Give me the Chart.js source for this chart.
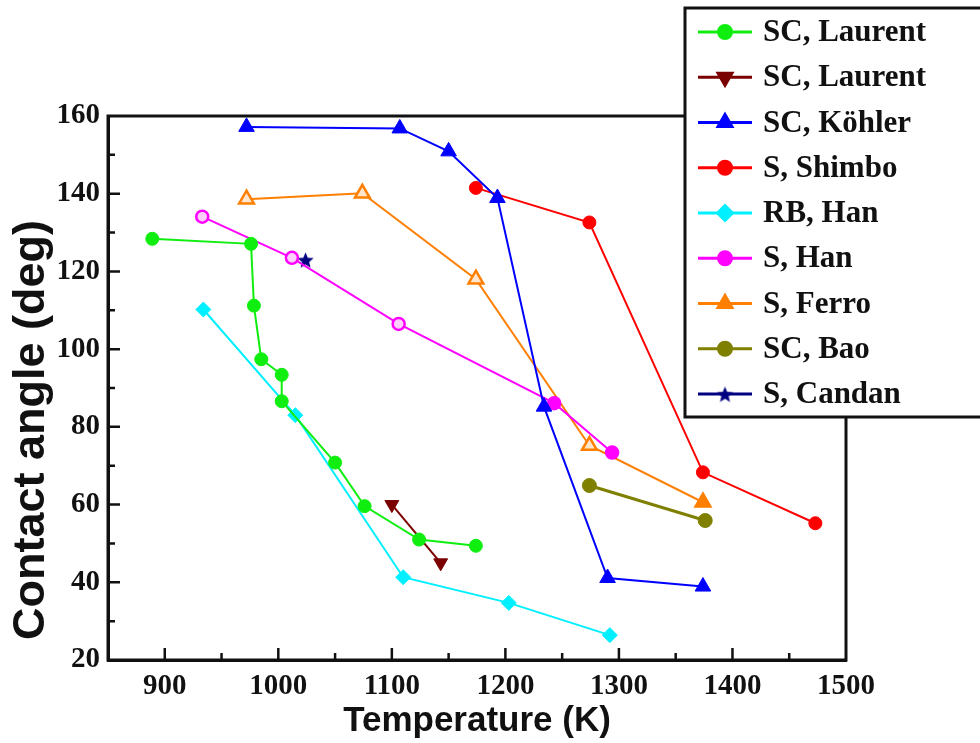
<!DOCTYPE html>
<html>
<head>
<meta charset="utf-8">
<script src="https://cdn.jsdelivr.net/npm/chart.js@4.4.1/dist/chart.umd.min.js"></script>
<style>
html,body{margin:0;padding:0;background:#fff;}
#wrap{position:relative;width:980px;height:743px;}
</style>
</head>
<body>
<div id="wrap"><canvas id="c"></canvas></div>
<script>
// ---- data ----
const xTickValues = [900, 1000, 1100, 1200, 1300, 1400, 1500];
const yTickValues = [20, 40, 60, 80, 100, 120, 140, 160];

const seriesNames = ["SC, Laurent", "SC, Laurent", "SC, Köhler", "S, Shimbo", "RB, Han", "S, Han", "S, Ferro", "SC, Bao", "S, Candan"];

const laurentA_T = [889, 976, 978.5, 985, 1003, 1003, 1050, 1076, 1124, 1174];
const laurentA_A = [128.4, 127.1, 111.2, 97.4, 93.4, 86.6, 70.8, 59.6, 51.0, 49.4];
const laurentB_T = [1100, 1143];
const laurentB_A = [60.0, 45.0];
const kohler_T = [972, 1107, 1150, 1193, 1234, 1290, 1374];
const kohler_A = [157.2, 156.8, 150.9, 138.9, 85.2, 41.1, 38.9];
const shimbo_T = [1174, 1274, 1374, 1473];
const shimbo_A = [141.5, 132.6, 68.3, 55.2];
const rbHan_T = [934, 1015, 1110, 1203, 1292];
const rbHan_A = [110.2, 83.0, 41.3, 34.7, 26.4];
const sHan_T = [933, 1012, 1106, 1243, 1294];
const sHan_A = [134.1, 123.5, 106.5, 86.1, 73.4];
const ferro_T = [972, 1074, 1174, 1274, 1374];
const ferro_A = [138.6, 140.1, 118.0, 75.2, 60.6];
const bao_T = [1274, 1376];
const bao_A = [64.9, 55.9];
const candan_T = [1024];
const candan_A = [123.0];

// ---- helpers ----
function pts(T, A){ return T.map((t,i)=>({x:t, y:A[i]})); }

function makeStar(color, size){
  const cv = document.createElement('canvas');
  cv.width = size; cv.height = size;
  const c = cv.getContext('2d');
  const cx = size/2, cy = size/2 + 1, R = size/2, r = R*0.45;
  c.beginPath();
  for (let i=0;i<10;i++){
    const rad = i%2===0 ? R : r;
    const a = -Math.PI/2 + i*Math.PI/5;
    const px = cx + rad*Math.cos(a), py = cy + rad*Math.sin(a);
    if (i===0) c.moveTo(px,py); else c.lineTo(px,py);
  }
  c.closePath();
  c.fillStyle = color; c.fill();
  return cv;
}
const starImg = makeStar('#000080', 17);

const GREEN='#10ee10', BROWN='#7a0000', BLUE='#0000ff', RED='#ff0000', CYAN='#00f0ff',
      MAGENTA='#ff00ff', ORANGE='#ff7f00', OLIVE='#7f7f00', NAVY='#000080';

function ds(label, data, color, style, radius, opts){
  return Object.assign({
    label, data, showLine:true, borderColor:color, backgroundColor:color,
    pointBackgroundColor:color, pointBorderColor:color, pointStyle:style,
    pointRadius:radius, pointHoverRadius:radius, pointBorderWidth:1, borderWidth:2
  }, opts||{});
}

const datasets = [
  ds(seriesNames[0], pts(laurentA_T, laurentA_A), GREEN, 'circle', 6.5),
  ds(seriesNames[1], pts(laurentB_T, laurentB_A), BROWN, 'triangle', 8, {pointRotation:180}),
  ds(seriesNames[2], pts(kohler_T, kohler_A), BLUE, 'triangle', 9),
  ds(seriesNames[3], pts(shimbo_T, shimbo_A), RED, 'circle', 6.5),
  ds(seriesNames[4], pts(rbHan_T, rbHan_A), CYAN, 'rectRot', 7.5),
  ds(seriesNames[5], pts(sHan_T, sHan_A), MAGENTA, 'circle', 6, {
    pointBackgroundColor: c => c.dataIndex < 3 ? '#ffd0ff' : MAGENTA, pointBorderWidth:2.5}),
  ds(seriesNames[6], pts(ferro_T, ferro_A), ORANGE, 'triangle', 8.5, {
    pointBackgroundColor: c => c.dataIndex < 4 ? '#ffe6cc' : ORANGE, pointBorderWidth:2.5}),
  ds(seriesNames[7], pts(bao_T, bao_A), OLIVE, 'circle', 7, {borderWidth:3}),
  ds(seriesNames[8], pts(candan_T, candan_A), NAVY, starImg, 8)
];

const legendStyles = [
  {c:GREEN, s:'circle', r:6.5}, {c:BROWN, s:'triangle', r:8, rot:180}, {c:BLUE, s:'triangle', r:8},
  {c:RED, s:'circle', r:6.5}, {c:CYAN, s:'rectRot', r:7.5}, {c:MAGENTA, s:'circle', r:6.5},
  {c:ORANGE, s:'triangle', r:8}, {c:OLIVE, s:'circle', r:6.5}, {c:NAVY, s:starImg, r:7}
];

const deco = {
  id:'deco',
  afterDraw(chart){
    const ctx = chart.ctx, a = chart.chartArea;
    const xs = chart.scales.x, ys = chart.scales.y;
    ctx.save();
    // frame
    ctx.strokeStyle = '#111'; ctx.lineWidth = 3;
    ctx.strokeRect(a.left, a.top, a.right - a.left, a.bottom - a.top);
    // inward ticks
    ctx.lineWidth = 2.5;
    ctx.beginPath();
    for (let v = 900; v < 1500; v += 50){
      const px = xs.getPixelForValue(v);
      const len = (v % 100 === 0) ? 12 : 7;
      ctx.moveTo(px, a.bottom); ctx.lineTo(px, a.bottom - len);
    }
    for (let v = 30; v < 160; v += 10){
      const py = ys.getPixelForValue(v);
      const len = (v % 20 === 0) ? 12 : 7;
      ctx.moveTo(a.left, py); ctx.lineTo(a.left + len, py);
    }
    ctx.stroke();
    // y title
    ctx.save();
    ctx.translate(32, 430);
    ctx.rotate(-Math.PI/2);
    ctx.font = "bold 45px 'Liberation Sans', Arial, sans-serif";
    ctx.fillStyle = '#111';
    ctx.textAlign = 'center'; ctx.textBaseline = 'middle';
    ctx.fillText('Contact angle (deg)', 0, 0);
    ctx.restore();
    // legend
    const lx = 685, ly = 8, lw = 310, lh = 409;
    ctx.fillStyle = '#fff';
    ctx.fillRect(lx, ly, lw, lh);
    ctx.strokeStyle = '#111'; ctx.lineWidth = 3;
    ctx.strokeRect(lx, ly, lw, lh);
    ctx.font = "bold 31px 'Liberation Serif', 'Times New Roman', serif";
    ctx.textBaseline = 'middle'; ctx.textAlign = 'left';
    for (let i = 0; i < seriesNames.length; i++){
      const y = 32 + i * 45.25;
      const st = legendStyles[i];
      ctx.strokeStyle = st.c; ctx.lineWidth = 3;
      ctx.beginPath(); ctx.moveTo(698, y); ctx.lineTo(752, y); ctx.stroke();
      ctx.fillStyle = st.c;
      Chart.helpers.drawPoint(ctx, {pointStyle: st.s, radius: st.r, rotation: st.rot || 0, borderWidth: 1}, 725, y);
      ctx.fillStyle = '#111';
      ctx.fillText(seriesNames[i], 763, y + 1);
    }
    ctx.restore();
  }
};

new Chart(document.getElementById('c'), {
  type:'scatter',
  data:{datasets},
  plugins:[deco],
  options:{
    responsive:true, maintainAspectRatio:false, animation:false,
    layout:{padding:{top:116, right:134, left:0, bottom:0}},
    plugins:{legend:{display:false}, tooltip:{enabled:false}},
    scales:{
      x:{
        type:'linear', min:850, max:1500,
        afterBuildTicks: s => { s.ticks = xTickValues.map(v => ({value:v})); },
        afterFit: s => { s.height = 83; },
        grid:{display:false, drawTicks:false},
        border:{display:true, color:'#111', width:3},
        ticks:{color:'#111', padding:9, maxRotation:0, autoSkip:false,
          font:{family:"'Liberation Serif', 'Times New Roman', serif", size:29, weight:'bold'},
          callback: v => String(v)},
        title:{display:true, text:'Temperature (K)', color:'#111',
          font:{family:"'Liberation Sans', Arial, sans-serif", size:35, weight:'bold'},
          padding:{top:0, bottom:1}}
      },
      y:{
        type:'linear', min:20, max:160,
        afterBuildTicks: s => { s.ticks = yTickValues.map(v => ({value:v})); },
        afterFit: s => { s.width = 108; },
        grid:{display:false, drawTicks:false},
        border:{display:true, color:'#111', width:3},
        ticks:{color:'#111', padding:8, autoSkip:false,
          font:{family:"'Liberation Serif', 'Times New Roman', serif", size:29, weight:'bold'},
          callback: v => String(v)}
      }
    }
  }
});
</script>
</body>
</html>
